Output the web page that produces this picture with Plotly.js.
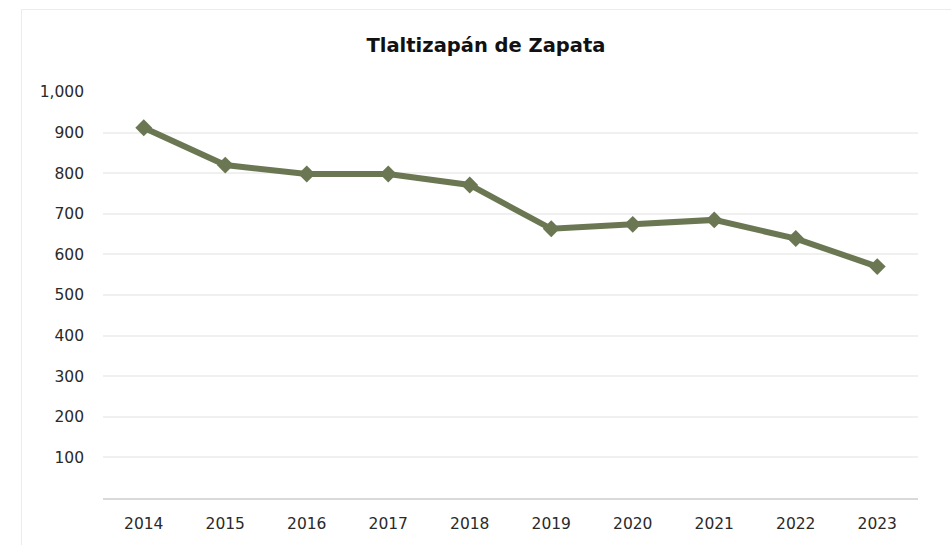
<!DOCTYPE html>
<html>
<head>
<meta charset="utf-8">
<script src="https://cdn.plot.ly/plotly-3.0.1.min.js"></script>
<style>
html,body{margin:0;padding:0;background:#fff;}
#frame{position:absolute;left:21px;top:9px;width:940px;height:545px;border:1px solid #ececec;box-sizing:border-box;}
#chart{position:absolute;left:0;top:0;width:951px;height:545px;}
</style>
</head>
<body>
<div id="frame"></div>
<div id="chart"></div>
<script>
const years = ['2014','2015','2016','2017','2018','2019','2020','2021','2022','2023'];
const values = [912, 820, 798, 798, 771, 663, 674, 685, 639, 570];
const yTicks = [100,200,300,400,500,600,700,800,900,1000];
const yTickText = ['100','200','300','400','500','600','700','800','900','1,000'];

const trace = {
  x: years, y: values, type: 'scatter', mode: 'lines+markers',
  line: {color: '#6b7753', width: 6},
  marker: {symbol: 'diamond', size: 13, color: '#6b7753'},
  hoverinfo: 'x+y'
};
const layout = {
  width: 951, height: 545,
  paper_bgcolor: 'rgba(0,0,0,0)', plot_bgcolor: 'rgba(0,0,0,0)',
  margin: {l: 103, r: 33, t: 92, b: 47},
  font: {family: 'DejaVu Sans, sans-serif', color: '#333', size: 15},
  title: {text: '<b>Tlaltizapán de Zapata</b>', x: 0.511, xref: 'container', y: 0.917, yref: 'container', yanchor: 'middle', font: {size: 19.5, color: '#111'}},
  showlegend: false,
  xaxis: {type: 'category', range: [-0.5, 9.5], showgrid: false, showline: true, linecolor: '#d9d9d9', linewidth: 2, ticks: '', tickfont: {size: 15.5, color: '#2a2a2a'}, ticklabelstandoff: 10},
  yaxis: {range: [0, 1000], tickvals: yTicks, ticktext: yTickText, showgrid: true, gridcolor: '#f0f0f0', gridwidth: 1.5, zeroline: false, showline: false, ticks: '', tickfont: {size: 15.5, color: '#2a2a2a'}, ticklabelstandoff: 18}
};
Plotly.newPlot('chart', [trace], layout, {displayModeBar: false});
</script>
</body>
</html>
